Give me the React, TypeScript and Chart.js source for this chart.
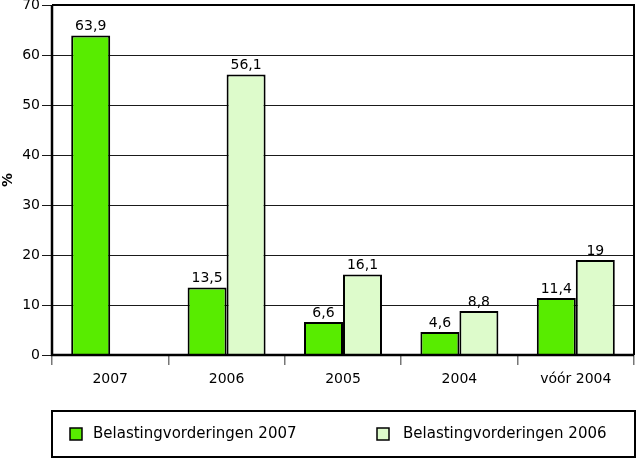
import React, { useEffect, useRef } from "react";
import { Chart, registerables } from "chart.js";

Chart.register(...registerables);

const categories = ["2007", "2006", "2005", "2004", "vóór 2004"];
const series2007 = [63.9, 13.5, 6.6, 4.6, 11.4];
const series2006: (number | null)[] = [null, 56.1, 16.1, 8.8, 19];
const seriesLabels = ["Belastingvorderingen 2007", "Belastingvorderingen 2006"];
const yTicks = [0, 10, 20, 30, 40, 50, 60, 70];

const FONT = "'DejaVu Sans', 'Liberation Sans', Arial, sans-serif";
const GREEN = "#58ec00";
const LIGHT = "#ddfbcb";

const fmt = (v: number) => String(v).replace(".", ",");

const valueLabels = {
  id: "valueLabels",
  afterDatasetsDraw(chart: any) {
    const ctx = chart.ctx;
    ctx.save();
    ctx.font = `14px ${FONT}`;
    ctx.fillStyle = "#000";
    ctx.textAlign = "center";
    ctx.textBaseline = "bottom";
    chart.data.datasets.forEach((ds: any, i: number) => {
      const meta = chart.getDatasetMeta(i);
      meta.data.forEach((bar: any, j: number) => {
        const v = ds.data[j];
        if (v === null || v === undefined) return;
        ctx.fillText(fmt(v), bar.x, bar.y - 2);
      });
    });
    ctx.restore();
  },
};

const frameAndLegend = {
  id: "frameAndLegend",
  afterDraw(chart: any) {
    const ctx = chart.ctx;
    const a = chart.chartArea;
    ctx.save();
    // frame
    ctx.strokeStyle = "#000";
    ctx.lineWidth = 2;
    ctx.beginPath();
    ctx.moveTo(a.left, a.top);
    ctx.lineTo(a.right, a.top);
    ctx.lineTo(a.right, a.bottom);
    ctx.stroke();
    ctx.lineWidth = 2.5;
    ctx.beginPath();
    ctx.moveTo(a.left, a.top);
    ctx.lineTo(a.left, a.bottom);
    ctx.lineTo(a.right, a.bottom);
    ctx.stroke();
    // legend box
    const bx = a.left;
    const by = 411;
    const bw = a.right - a.left + 1;
    const bh = 46;
    ctx.lineWidth = 2;
    ctx.strokeRect(bx, by, bw, bh);
    const cy = by + bh / 2;
    const items = [
      { x: 70, tx: 93 },
      { x: 377, tx: 403 },
    ];
    ctx.font = `15px ${FONT}`;
    ctx.textBaseline = "middle";
    ctx.textAlign = "left";
    chart.data.datasets.forEach((ds: any, i: number) => {
      const it = items[i];
      ctx.fillStyle = ds.backgroundColor;
      ctx.fillRect(it.x, cy - 6, 12, 12);
      ctx.lineWidth = 1.5;
      ctx.strokeStyle = "#000";
      ctx.strokeRect(it.x, cy - 6, 12, 12);
      ctx.fillStyle = "#000";
      ctx.fillText(ds.label, it.tx, cy);
    });
    ctx.restore();
  },
};

export default function App() {
  const ref = useRef<HTMLCanvasElement>(null);
  useEffect(() => {
    if (!ref.current) return;
    const chart = new Chart(ref.current, {
      type: "bar",
      data: {
        labels: categories,
        datasets: [
          {
            label: seriesLabels[0],
            data: series2007,
            backgroundColor: GREEN,
            borderColor: "#000",
            borderWidth: 2,
            borderSkipped: "bottom",
          },
          {
            label: seriesLabels[1],
            data: series2006,
            backgroundColor: LIGHT,
            borderColor: "#000",
            borderWidth: 2,
            borderSkipped: "bottom",
          },
        ],
      },
      options: {
        animation: false,
        responsive: false,
        maintainAspectRatio: false,
        layout: { padding: { top: 5, right: 2, left: 0, bottom: 0 } },
        datasets: { bar: { categoryPercentage: 0.67, barPercentage: 1 } },
        plugins: {
          legend: { display: false },
          tooltip: { enabled: false },
          title: { display: false },
        },
        scales: {
          x: {
            grid: {
              display: true,
              drawOnChartArea: false,
              drawTicks: true,
              tickLength: 10,
              color: "#777",
              lineWidth: 1.5,
              offset: true,
            },
            border: { display: false },
            ticks: {
              color: "#000",
              font: { family: FONT, size: 14 },
              padding: 6,
              maxRotation: 0,
            },
            afterFit(scale: any) {
              scale.height = 104;
            },
          },
          y: {
            min: 0,
            max: 70,
            afterBuildTicks(scale: any) {
              scale.ticks = yTicks.map((v) => ({ value: v }));
            },
            grid: {
              color: "#1a1a1a",
              lineWidth: 1,
              drawTicks: true,
              tickLength: 10,
            },
            border: { display: false },
            ticks: {
              color: "#000",
              font: { family: FONT, size: 14 },
              padding: 2,
            },
            title: {
              display: true,
              text: "%",
              color: "#000",
              font: { family: FONT, size: 14, weight: "bold" },
              padding: 0,
            },
            afterFit(scale: any) {
              scale.width = 52;
              scale.paddingTop = 0;
              scale.paddingBottom = 0;
            },
          },
        },
      },
      plugins: [valueLabels, frameAndLegend],
    });
    return () => chart.destroy();
  }, []);
  return (
    <div style={{ position: "absolute", left: 0, top: 0, width: 636, height: 459, background: "#fff" }}>
      <canvas ref={ref} width={636} height={459} style={{ display: "block" }} />
    </div>
  );
}
